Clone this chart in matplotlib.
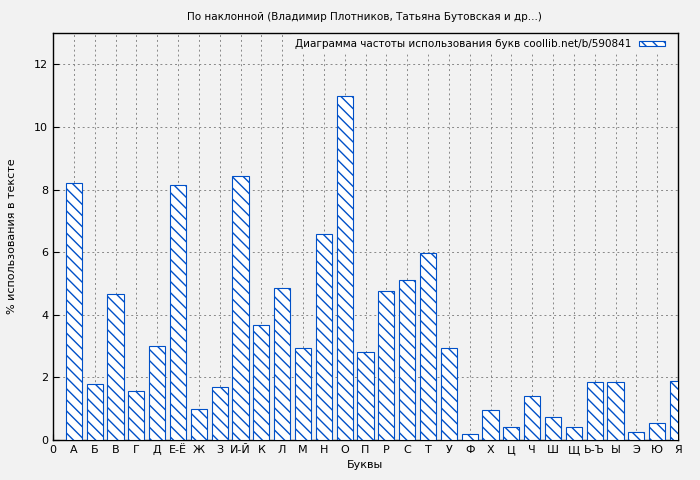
import matplotlib
matplotlib.use('Agg')
import matplotlib.pyplot as plt

letters = ['А', 'Б', 'В', 'Г', 'Д', 'Е-Ё', 'Ж', 'З', 'И-Й', 'К', 'Л', 'М', 'Н', 'О', 'П',
           'Р', 'С', 'Т', 'У', 'Ф', 'Х', 'Ц', 'Ч', 'Ш', 'Щ', 'Ь-Ъ', 'Ы', 'Э', 'Ю', 'Я']
freq = [8.22, 1.80, 4.65, 1.55, 3.00, 8.15, 1.00, 1.68, 8.42, 3.67, 4.87, 2.95, 6.57, 11.0, 2.80,
        4.75, 5.10, 5.97, 2.93, 0.18, 0.95, 0.40, 1.42, 0.75, 0.40, 1.85, 1.85, 0.25, 0.55, 1.90]

bg = '#f2f2f2'
fig = plt.figure(figsize=(7, 4.8), dpi=100, facecolor=bg)
ax = fig.add_axes([53/700, 40/480, 625/700, 407/480], facecolor=bg)

pos = list(range(1, len(letters) + 1))
ax.bar(pos, freq, width=0.78, color='white', edgecolor='#0050c8', hatch='\\\\\\',
       linewidth=0.8, label='Диаграмма частоты использования букв coollib.net/b/590841', zorder=3)

ax.set_xlim(0, 30)
ax.set_ylim(0, 13)
ax.set_xticks([0] + pos)
ax.set_xticklabels(['0'] + letters, fontsize=8)
ax.set_yticks(range(0, 13, 2))
ax.tick_params(axis='y', labelsize=8)
ax.tick_params(direction='in', length=4)
ax.grid(True, linestyle=(0, (2, 3)), color='#888888', linewidth=0.7, zorder=0)
ax.set_xlabel('Буквы', fontsize=8)
ax.set_ylabel('% использования в тексте', fontsize=8, labelpad=12)
fig.text(0.52, 0.965, 'По наклонной (Владимир Плотников, Татьяна Бутовская и др...)',
         ha='center', va='center', fontsize=7.5)
leg = ax.legend(loc='upper right', fontsize=7.5, markerfirst=False, frameon=True,
                fancybox=False, borderaxespad=0.2, handlelength=2.5, handleheight=0.4,
                bbox_to_anchor=(0.99, 1.0))
leg.get_frame().set_facecolor(bg)
leg.get_frame().set_edgecolor(bg)
leg.get_frame().set_alpha(1)
for s in ax.spines.values():
    s.set_linewidth(1)
fig.savefig('out.png', dpi=100, facecolor=bg)
